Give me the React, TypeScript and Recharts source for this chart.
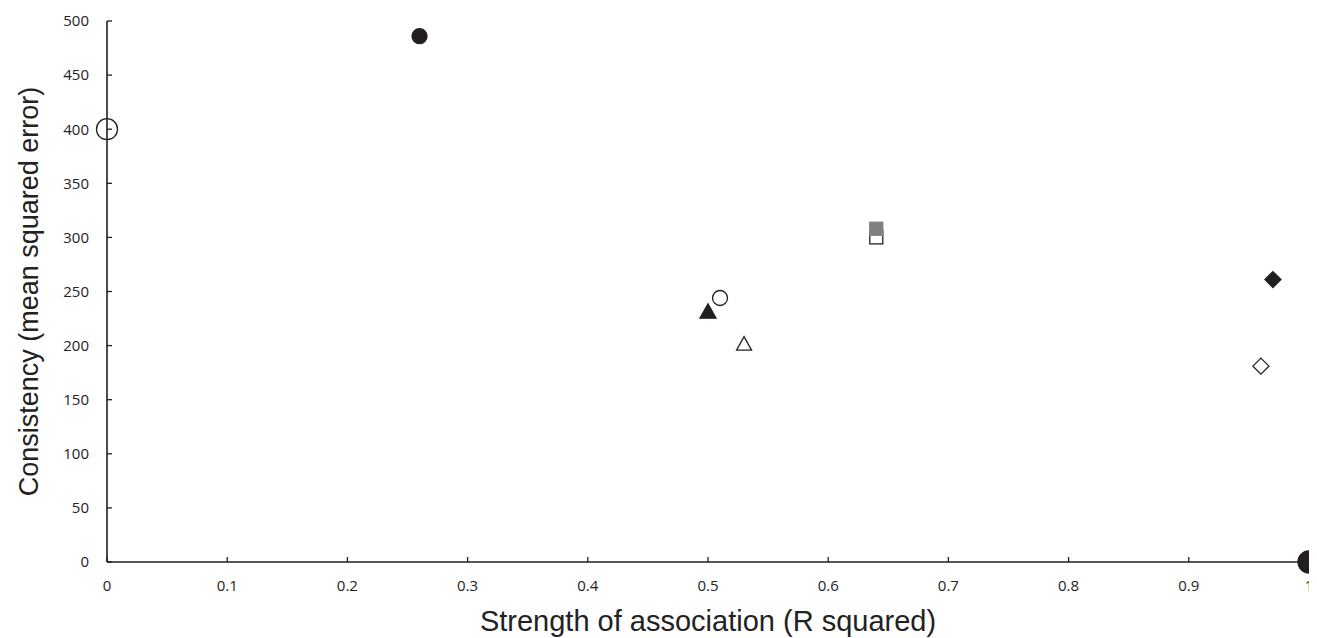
import { ScatterChart, Scatter, XAxis, YAxis, Label } from 'recharts';

// point groups (x = R squared, y = MSE)
const bigOpenCircle = [{ r2: 0, mse: 400 }];
const filledCircle = [{ r2: 0.26, mse: 486 }];
const openCircle = [{ r2: 0.51, mse: 244 }];
const filledTriangle = [{ r2: 0.5, mse: 232 }];
const openTriangle = [{ r2: 0.53, mse: 202 }];
const openSquare = [{ r2: 0.64, mse: 300 }];
const graySquare = [{ r2: 0.64, mse: 308 }];
const filledDiamond = [{ r2: 0.97, mse: 261 }];
const openDiamond = [{ r2: 0.96, mse: 181 }];
const bigFilledCircle = [{ r2: 1, mse: 0 }];

const xTicks = [0, 0.1, 0.2, 0.3, 0.4, 0.5, 0.6, 0.7, 0.8, 0.9, 1];
const yTicks = [0, 50, 100, 150, 200, 250, 300, 350, 400, 450, 500];

const INK = '#231f20';
const GRAY = '#808080';
const TICK_FONT = '"Open Sans", sans-serif';
const TITLE_FONT = '"Liberation Sans", Arial, sans-serif';

type ShapeProps = { cx?: number; cy?: number };
type TickProps = { x?: number; y?: number; payload?: { value: number } };

const circleShape = (r: number, fill: string) => (p: ShapeProps) => (
  <circle cx={p.cx} cy={p.cy} r={r} fill={fill} stroke={INK} strokeWidth={1.3} />
);

const squareShape = (s: number, fill: string, stroke: string) => (p: ShapeProps) => (
  <rect
    x={(p.cx ?? 0) - s / 2}
    y={(p.cy ?? 0) - s / 2}
    width={s}
    height={s}
    fill={fill}
    stroke={stroke}
    strokeWidth={1.3}
  />
);

const triangleShape = (s: number, fill: string) => (p: ShapeProps) => {
  const cx = p.cx ?? 0;
  const cy = p.cy ?? 0;
  const h = s * 0.9;
  const pts = `${cx},${cy - h / 2} ${cx + s / 2},${cy + h / 2} ${cx - s / 2},${cy + h / 2}`;
  return <polygon points={pts} fill={fill} stroke={INK} strokeWidth={1.3} />;
};

const diamondShape = (s: number, fill: string) => (p: ShapeProps) => {
  const cx = p.cx ?? 0;
  const cy = p.cy ?? 0;
  const d = s / 2;
  const pts = `${cx},${cy - d} ${cx + d},${cy} ${cx},${cy + d} ${cx - d},${cy}`;
  return <polygon points={pts} fill={fill} stroke={INK} strokeWidth={1.3} />;
};

const XTick = ({ x, y, payload }: TickProps) => (
  <text x={x} y={y} dy="0.71em" textAnchor="middle" fontSize={15} fill="#222" fontFamily={TICK_FONT}>
    {payload?.value}
  </text>
);

const YTick = ({ x, y, payload }: TickProps) => (
  <text x={x} y={y} dy="0.355em" textAnchor="end" fontSize={15} fill="#222" fontFamily={TICK_FONT}>
    {payload?.value}
  </text>
);

export default function App() {
  return (
    <div style={{ margin: '-8px 0 0 -8px', width: 1317, height: 638, background: '#fff' }}>
      <ScatterChart width={1317} height={638} margin={{ top: 21, right: 8, bottom: 0, left: 0 }}>
        <XAxis
          type="number"
          dataKey="r2"
          domain={[0, 1]}
          ticks={xTicks}
          interval={0}
          tick={XTick}
          tickSize={-5}
          tickMargin={23}
          axisLine={{ stroke: INK, strokeWidth: 1.6 }}
          tickLine={{ stroke: INK, strokeWidth: 1.3 }}
          height={76}
        >
          <Label
            value="Strength of association (R squared)"
            position="center"
            dy={21}
            style={{ fontSize: 29, fill: '#222', fontFamily: TITLE_FONT }}
          />
        </XAxis>
        <YAxis
          type="number"
          dataKey="mse"
          domain={[0, 500]}
          ticks={yTicks}
          interval={0}
          tick={YTick}
          tickSize={-5}
          tickMargin={23}
          axisLine={{ stroke: INK, strokeWidth: 1.6 }}
          tickLine={{ stroke: INK, strokeWidth: 1.3 }}
          width={107}
        >
          <Label
            value="Consistency (mean squared error)"
            angle={-90}
            position="center"
            dx={-25}
            style={{ fontSize: 27, fill: '#222', fontFamily: TITLE_FONT }}
          />
        </YAxis>
        <Scatter data={bigOpenCircle} shape={circleShape(10.5, 'none')} isAnimationActive={false} />
        <Scatter data={filledCircle} shape={circleShape(7.5, INK)} isAnimationActive={false} />
        <Scatter data={openCircle} shape={circleShape(7.5, '#fff')} isAnimationActive={false} />
        <Scatter data={filledTriangle} shape={triangleShape(16, INK)} isAnimationActive={false} />
        <Scatter data={openTriangle} shape={triangleShape(15, '#fff')} isAnimationActive={false} />
        <Scatter data={openSquare} shape={squareShape(13, '#fff', INK)} isAnimationActive={false} />
        <Scatter data={graySquare} shape={squareShape(13, GRAY, GRAY)} isAnimationActive={false} />
        <Scatter data={filledDiamond} shape={diamondShape(16, INK)} isAnimationActive={false} />
        <Scatter data={openDiamond} shape={diamondShape(16, '#fff')} isAnimationActive={false} />
        <Scatter data={bigFilledCircle} shape={circleShape(11, INK)} isAnimationActive={false} />
      </ScatterChart>
    </div>
  );
}
